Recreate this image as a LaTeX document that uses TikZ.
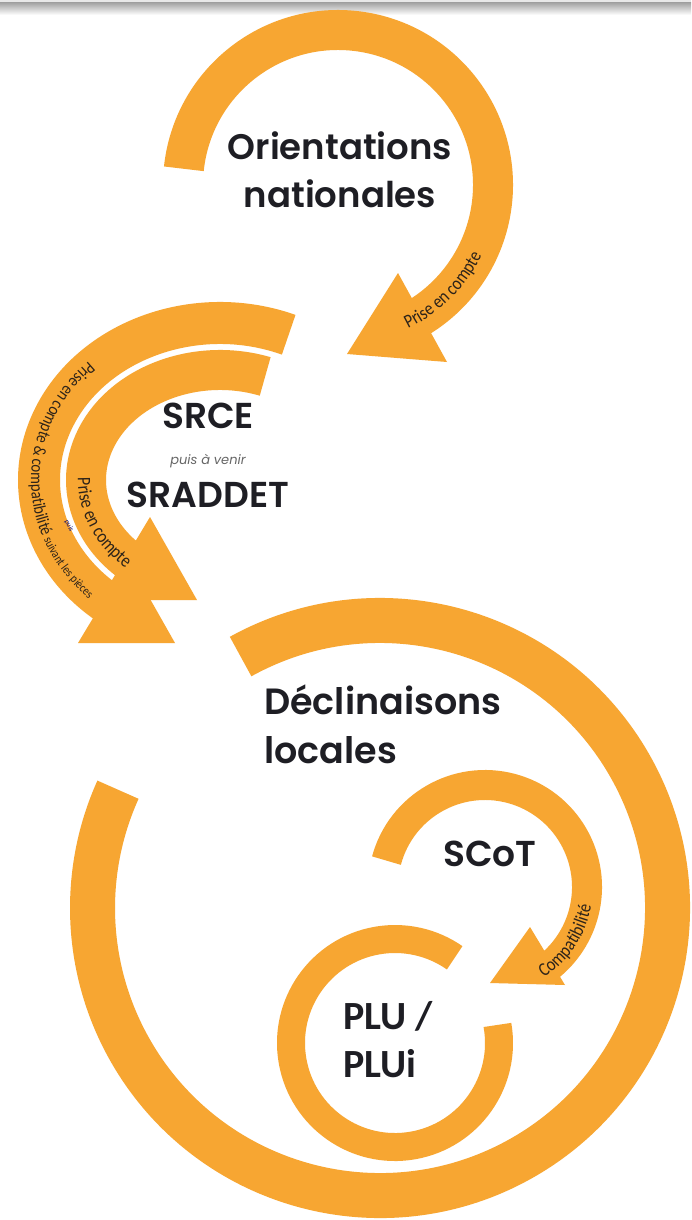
\documentclass[tikz,border=0pt]{standalone}
\usepackage{fontspec}
\setmainfont{Poppins}
\newfontfamily\calfont{Carlito}
\newfontfamily\condfont[FakeStretch=0.85]{Carlito}
\IfFontExistsTF{Poppins SemiBold}{\newfontfamily\headfont{Poppins SemiBold}}{\newcommand\headfont{\bfseries}}
\usetikzlibrary{decorations.text,calc}
\definecolor{orng}{RGB}{247,166,50}
\definecolor{ink}{RGB}{30,30,36}
\definecolor{bandink}{RGB}{45,35,25}
\begin{document}
\begin{tikzpicture}[x=1pt,y=1pt,
  band/.style={draw=orng, line cap=butt},
  head/.style={fill=orng, draw=none},
  bigtxt/.style={font=\headfont\fontsize{35.5}{48}\selectfont, text=ink, inner sep=0pt},
  captxt/.style={font=\headfont\fontsize{36}{40}\selectfont, text=ink, inner sep=0pt},
  arctext/.style={decorate, decoration={text along path, text align=left, text color=bandink}}
]
\useasboundingbox (0,0) rectangle (691,-1220);
\fill[white] (0,0) rectangle (691,-1220);
% top shadow
\fill[gray!18] (0,0) rectangle (691,-3);
\shade[top color=gray!70, bottom color=white] (0,-3) rectangle (691,-15);

% centres
\coordinate (cO) at (338,-185);
\coordinate (cR) at (220,-480);
\coordinate (cD) at (380,-908);
\coordinate (cS) at (485,-887);
\coordinate (cP) at (395,-1043);

% Orientations nationales arc
\draw[band, line width=40] ($(cO)+(174:155)$) arc[start angle=174, end angle=-58, radius=155];
\fill[head] (398,-273) -- (447,-362) -- (347,-354) -- cycle;

% SRCE outer arc
\draw[band, line width=42] ($(cR)+(67.7:181 and 157)$) arc[start angle=67.7, end angle=232, x radius=181, y radius=157];
\fill[head] (128,-560) -- (78,-643) -- (175,-643) -- cycle;
% SRCE inner arc
\draw[band, line width=40] ($(cR)+(70.3:134 and 110)$) arc[start angle=70.3, end angle=227, x radius=134, y radius=110];
\fill[head] (150,-517) -- (100,-600) -- (197,-600) -- cycle;

% Declinaisons ring
\draw[band, line width=45] ($(cD)+(119:287.5)$) arc[start angle=119, end angle=-204.3, radius=287.5];

% SCoT arc
\draw[band, line width=30] ($(cS)+(165:102)$) arc[start angle=165, end angle=-51, radius=102];
\fill[head] (530,-927) -- (565,-985) -- (490,-983) -- cycle;

% PLU ring
\draw[band, line width=28] ($(cP)+(10:104)$) arc[start angle=10, end angle=-305, radius=104];

% texts along arcs
\path[arctext, decoration={text={|\condfont\fontsize{19}{19}\selectfont|Prise en compte}}]
  ($(cO)+(-64:160)$) arc[start angle=-64, end angle=0, radius=160];
\path[arctext, decoration={text={|\condfont\fontsize{17.5}{17.5}\selectfont|Prise en compte {\&} compatibilité |\condfont\fontsize{12.5}{12.5}\selectfont|suivant les pièces}}]
  ($(cR)+(134:189 and 165)$) arc[start angle=134, end angle=265, x radius=189, y radius=165];
\path[arctext, decoration={text={|\condfont\fontsize{19}{19}\selectfont|Prise en compte}}]
  ($(cR)+(179:142 and 118)$) arc[start angle=179, end angle=265, x radius=142, y radius=118];
\path[arctext, decoration={text={|\condfont\fontsize{19}{19}\selectfont|Compatibilité}}]
  ($(cS)+(-57:108)$) arc[start angle=-57, end angle=25, radius=108];
\node[rotate=-62, font=\calfont\fontsize{7}{7}\selectfont, text=blue!45!black, inner sep=0pt] (pp) at (69,-526) {puis};

% labels
\node[bigtxt, align=center] (orient) at (340,-170) {Orientations\\nationales};
\node[captxt] (srce) at (208,-416) {SRCE};
\node[font=\itshape\fontsize{13}{13}\selectfont, text=gray!80!black, inner sep=0pt] (venir) at (208,-461) {puis à venir};
\node[captxt] (sraddet) at (208,-495) {SRADDET};
\node[font=\headfont\fontsize{36.5}{49}\selectfont, text=ink, inner sep=0pt, align=left, anchor=west] (decl) at (264,-724) {Déclinaisons\\locales};
\node[captxt] (scot) at (490,-854) {SCoT};
\node[font=\calfont\bfseries\fontsize{40}{48}\selectfont, text=ink, align=left, anchor=west, inner sep=0pt] (plu) at (343,-1040) {PLU /\\PLUi};
\end{tikzpicture}
\end{document}
